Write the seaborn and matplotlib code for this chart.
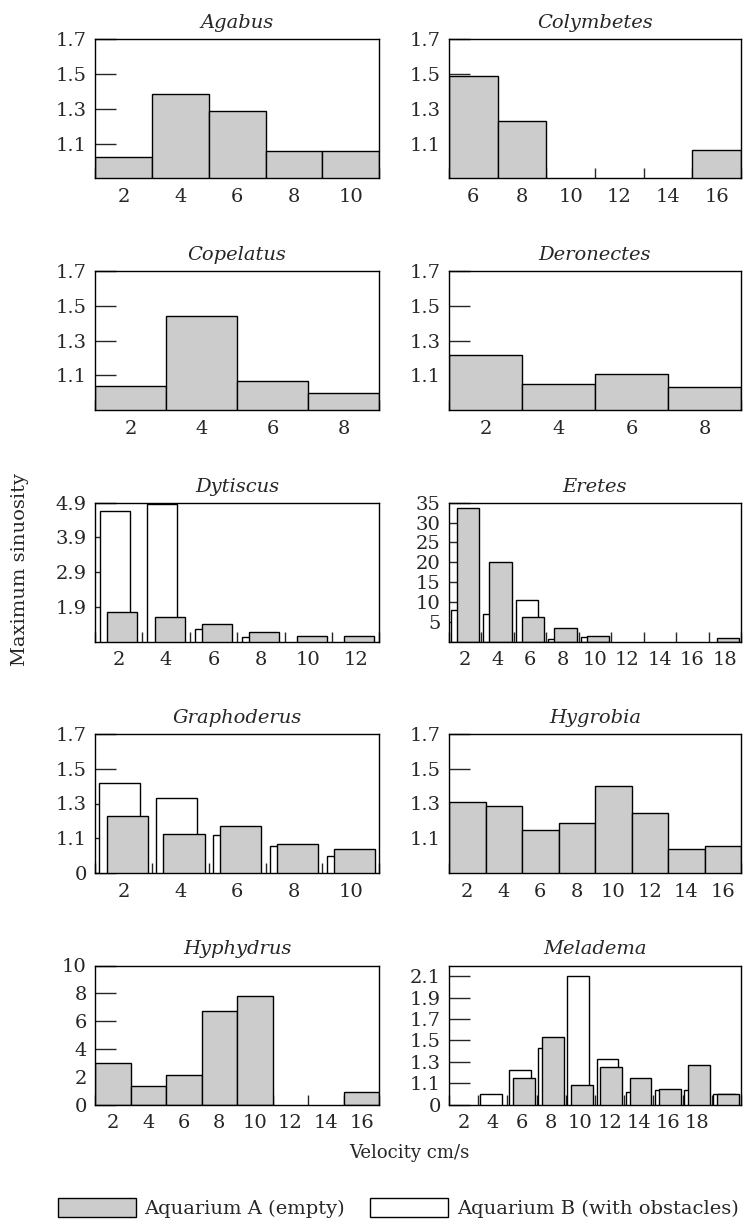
import numpy as np
import matplotlib.pyplot as plt
import seaborn as sns
from matplotlib.patches import Patch

# velocity classes (cm/s) and maximum sinuosity
agabus_v = [2, 4, 6, 8, 10]
agabus_a = [1.02, 1.385, 1.285, 1.06, 1.06]

colymbetes_v = [6, 8, 16]
colymbetes_a = [1.49, 1.23, 1.065]

copelatus_v = [2, 4, 6, 8]
copelatus_a = [1.04, 1.44, 1.065, 1.0]

deronectes_v = [2, 4, 6, 8]
deronectes_a = [1.22, 1.05, 1.105, 1.03]

dytiscus_v = [2, 4, 6, 8, 10, 12]
dytiscus_a = [1.76, 1.60, 1.41, 1.17, 1.07, 1.07]
dytiscus_bv = [2, 4, 6, 8]
dytiscus_b = [4.65, 4.86, 1.27, 1.03]

eretes_v = [2, 4, 6, 8, 10, 18]
eretes_a = [33.7, 20.1, 6.1, 3.4, 1.5, 0.85]
eretes_bv = [2, 4, 6, 8, 10]
eretes_b = [8.0, 7.05, 10.4, 0.76, 1.1]

graphoderus_v = [2, 4, 6, 8, 10]
graphoderus_a = [1.231, 1.125, 1.169, 1.066, 1.037]
graphoderus_b = [1.416, 1.329, 1.117, 1.054, 1.0]

hygrobia_v = [2, 4, 6, 8, 10, 12, 14, 16]
hygrobia_a = [1.306, 1.283, 1.151, 1.189, 1.403, 1.243, 1.041, 1.054]

hyphydrus_v = [2, 4, 6, 8, 10, 16]
hyphydrus_a = [2.99, 1.36, 2.11, 6.75, 7.78, 0.93]

meladema_v = [6, 8, 10, 12, 14, 16, 18, 20]
meladema_a = [1.15, 1.53, 1.08, 1.25, 1.15, 1.05, 1.27, 1.0]
meladema_bv = [4, 6, 8, 10, 12, 14, 16, 18, 20]
meladema_b = [1.0, 1.225, 1.43, 2.1, 1.33, 1.02, 1.035, 1.035, 1.0]

# tick values / labels
sin_ticks = [1.1, 1.3, 1.5, 1.7]
sin_ticks0 = [0.9, 1.1, 1.3, 1.5, 1.7]
sin_labels0 = ['0', '1.1', '1.3', '1.5', '1.7']
dyt_ticks = [1.9, 2.9, 3.9, 4.9]
ere_ticks = [5, 10, 15, 20, 25, 30, 35]
hyp_ticks = [0, 2, 4, 6, 8, 10]
mel_ticks = [0.9, 1.1, 1.3, 1.5, 1.7, 1.9, 2.1]
mel_labels = ['0', '1.1', '1.3', '1.5', '1.7', '1.9', '2.1']

GREY = '#cccccc'

sns.set_style('ticks')
plt.rcParams['font.family'] = ['DejaVu Serif']

fig = plt.figure(figsize=(7.43, 12.22), dpi=100)
W, H = 743, 1222
cols = [(95, 379.3), (449, 741)]
rows = [(39.3, 178.3), (271.3, 410), (502.7, 641.7), (733.7, 873.3), (965.5, 1104.7)]


def make_ax(r, c):
    x0, x1 = cols[c]
    y0, y1 = rows[r]
    return fig.add_axes([x0 / W, 1 - y1 / H, (x1 - x0) / W, (y1 - y0) / H])


def panel(ax, title, va, ya, xlim, ylim, yticks, ylabels=None, xlabels=None,
          vb=None, yb=None, width=1.0, off_a=0.0, off_b=0.0):
    # white bars (aquarium B) first, grey bars (aquarium A) on top
    if vb is not None:
        sns.barplot(x=np.array(vb, dtype=float) + off_b, y=yb, native_scale=True,
                    width=width, color='white', edgecolor='black', linewidth=1,
                    saturation=1, errorbar=None, ax=ax)
    sns.barplot(x=np.array(va, dtype=float) + off_a, y=ya, native_scale=True,
                width=width, color=GREY, edgecolor='black', linewidth=1,
                saturation=1, errorbar=None, ax=ax)
    ax.set_xlim(*xlim)
    ax.set_ylim(*ylim)
    if xlabels is None:
        xlabels = list(range(xlim[0] + 1, xlim[1], 2))
    ax.set_xticks(xlabels, [str(v) for v in xlabels])
    ax.set_xticks(list(range(xlim[0], xlim[1] + 1, 2)), minor=True)
    ax.set_yticks(yticks, ylabels if ylabels is not None else [str(t) for t in yticks])
    ax.tick_params(axis='x', which='major', length=0, pad=7, labelsize=14)
    ax.tick_params(axis='x', which='minor', length=7, width=1, direction='in')
    ax.tick_params(axis='y', which='major', length=15, width=1, direction='in',
                   pad=6, labelsize=14)
    ax.set_xlabel('')
    ax.set_ylabel('')
    for s in ax.spines.values():
        s.set_visible(True)
        s.set_linewidth(1)
        s.set_color('black')
    ax.set_title(title, style='italic', fontsize=14, pad=8)


panel(make_ax(0, 0), 'Agabus', agabus_v, agabus_a, (1, 11), (0.9, 1.7), sin_ticks)
panel(make_ax(0, 1), 'Colymbetes', colymbetes_v, colymbetes_a, (5, 17), (0.9, 1.7), sin_ticks)
panel(make_ax(1, 0), 'Copelatus', copelatus_v, copelatus_a, (1, 9), (0.9, 1.7), sin_ticks)
panel(make_ax(1, 1), 'Deronectes', deronectes_v, deronectes_a, (1, 9), (0.9, 1.7), sin_ticks)
panel(make_ax(2, 0), 'Dytiscus', dytiscus_v, dytiscus_a, (1, 13), (0.9, 4.9), dyt_ticks,
      vb=dytiscus_bv, yb=dytiscus_b, width=0.635, off_a=0.15, off_b=-0.16)
panel(make_ax(2, 1), 'Eretes', eretes_v, eretes_a, (1, 19), (0, 35), ere_ticks,
      vb=eretes_bv, yb=eretes_b, width=0.685, off_a=0.18, off_b=-0.2)
panel(make_ax(3, 0), 'Graphoderus', graphoderus_v, graphoderus_a, (1, 11), (0.9, 1.7),
      sin_ticks0, ylabels=sin_labels0, vb=graphoderus_v, yb=graphoderus_b,
      width=0.725, off_a=0.13, off_b=-0.13)
panel(make_ax(3, 1), 'Hygrobia', hygrobia_v, hygrobia_a, (1, 17), (0.9, 1.7), sin_ticks)
panel(make_ax(4, 0), 'Hyphydrus', hyphydrus_v, hyphydrus_a, (1, 17), (0, 10), hyp_ticks)
panel(make_ax(4, 1), 'Meladema', meladema_v, meladema_a, (1, 21), (0.9, 2.2), mel_ticks,
      ylabels=mel_labels, xlabels=[2, 4, 6, 8, 10, 12, 14, 16, 18],
      vb=meladema_bv, yb=meladema_b, width=0.745, off_a=0.12, off_b=-0.14)

fig.text(20 / W, 1 - 570 / H, 'Maximum sinuosity', rotation=90, ha='center',
         va='center', fontsize=14)
fig.text(409 / W, 1 - 1153 / H, 'Velocity cm/s', ha='center', va='center', fontsize=13)

handles = [Patch(facecolor=GREY, edgecolor='black', linewidth=1, label='Aquarium A (empty)'),
           Patch(facecolor='white', edgecolor='black', linewidth=1,
                 label='Aquarium B (with obstacles)')]
fig.legend(handles=handles, ncol=2, frameon=False, loc='center left',
           bbox_to_anchor=(58 / W, 1 - 1208 / H), fontsize=14, handlelength=4.0,
           handleheight=1.1, handletextpad=0.45, columnspacing=1.3,
           borderaxespad=0, borderpad=0)

fig.savefig('out.png', dpi=100)
